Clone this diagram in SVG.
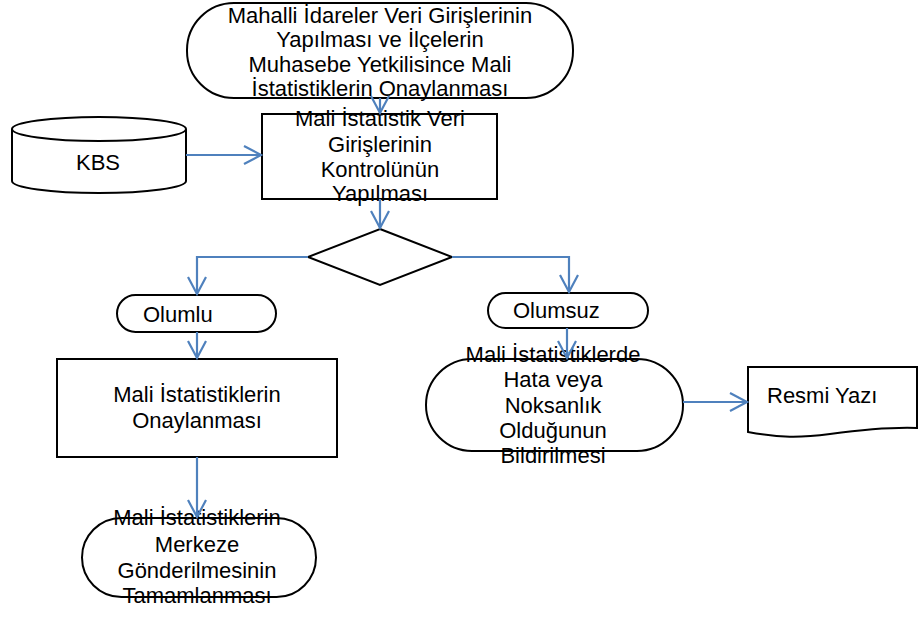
<svg xmlns="http://www.w3.org/2000/svg" width="920" height="617" viewBox="0 0 920 617">
<defs>
<style>
.s{fill:#fff;stroke:#000;stroke-width:2}
.t{font-family:"Liberation Sans",Arial,sans-serif;font-size:22px;fill:#000;text-anchor:middle}
.l{font-family:"Liberation Sans",Arial,sans-serif;font-size:22px;fill:#000}
.c{fill:none;stroke:#4F81BD;stroke-width:2.2;marker-end:url(#ah)}
</style>
<marker id="ah" markerUnits="userSpaceOnUse" markerWidth="20" markerHeight="20" viewBox="-18 -10 20 20" refX="0" refY="0" orient="auto" overflow="visible">
<path d="M-17,-9 L0,0 L-17,9" fill="none" stroke="#4F81BD" stroke-width="2.2"/>
</marker>
</defs>
<rect width="920" height="617" fill="#fff"/>
<g id="start">
<rect class="s" x="187" y="3" width="386" height="95" rx="47" ry="47"/>
<text class="t" x="380" y="22.5">Mahalli İdareler Veri Girişlerinin</text>
<text class="t" x="380" y="47">Yapılması ve İlçelerin</text>
<text class="t" x="380" y="72">Muhasebe Yetkilisince Mali</text>
<text class="t" x="380" y="96">İstatistiklerin Onaylanması</text>
</g>
<g id="kbs">
<path class="s" d="M12,129 A87,12 0 0 1 186,129 V181 A87,12 0 0 1 12,181 Z"/>
<path class="s" fill="none" d="M12,129 A87,12 0 0 0 186,129"/>
<text class="t" x="98" y="170">KBS</text>
</g>
<g id="control">
<rect class="s" x="262" y="114" width="235" height="85"/>
<text class="t" x="380" y="126">Mali İstatistik Veri</text>
<text class="t" x="380" y="152">Girişlerinin</text>
<text class="t" x="380" y="177">Kontrolünün</text>
<text class="t" x="380" y="201">Yapılması</text>
</g>
<g id="decision">
<polygon class="s" points="380,229 452,257 380,285 308,257"/>
</g>
<g id="olumlu">
<rect class="s" x="117" y="295" width="159" height="37" rx="18.5" ry="18.5"/>
<text class="l" x="143" y="322">Olumlu</text>
</g>
<g id="olumsuz">
<rect class="s" x="488" y="293" width="160" height="35" rx="17.5" ry="17.5"/>
<text class="l" x="513" y="318">Olumsuz</text>
</g>
<g id="approve">
<rect class="s" x="57" y="359" width="280" height="98"/>
<text class="t" x="197" y="402">Mali İstatistiklerin</text>
<text class="t" x="197" y="428">Onaylanması</text>
</g>
<g id="error">
<rect class="s" x="426" y="359" width="257" height="92" rx="46" ry="46"/>
<text class="t" x="553" y="362">Mali İstatistiklerde</text>
<text class="t" x="553" y="387">Hata veya</text>
<text class="t" x="553" y="413">Noksanlık</text>
<text class="t" x="553" y="438">Olduğunun</text>
<text class="t" x="553" y="463">Bildirilmesi</text>
</g>
<g id="letter">
<path class="s" d="M748,367 H917 V428 C890,427 860,430 830,434 C800,438 780,438 748,432 Z"/>
<text class="l" x="767" y="403">Resmi Yazı</text>
</g>
<g id="end">
<rect class="s" x="82" y="518" width="234" height="79" rx="39.5" ry="39.5"/>
<text class="t" x="197" y="525">Mali İstatistiklerin</text>
<text class="t" x="197" y="552">Merkeze</text>
<text class="t" x="197" y="578">Gönderilmesinin</text>
<text class="t" x="197" y="603">Tamamlanması</text>
</g>
<g id="connectors">
<path class="c" d="M380,98 V113"/>
<path class="c" d="M186,155 H261"/>
<path class="c" d="M380,199 V228"/>
<path class="c" d="M308,257 H197 V294"/>
<path class="c" d="M452,257 H569 V292"/>
<path class="c" d="M197,332 V358"/>
<path class="c" d="M567,328 V358"/>
<path class="c" d="M683,402 H747"/>
<path class="c" d="M197,457 V517"/>
</g>
</svg>
